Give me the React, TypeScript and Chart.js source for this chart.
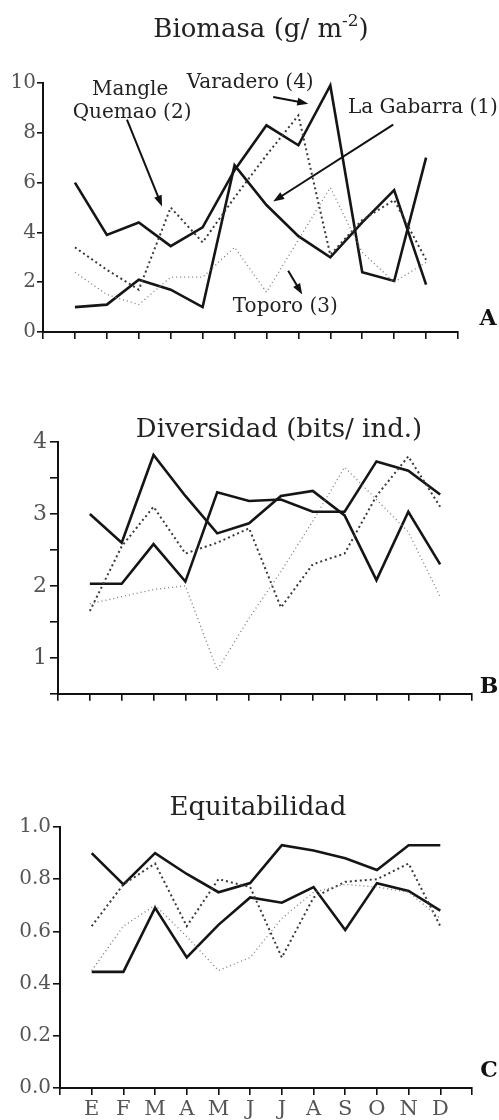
import React, { useEffect, useRef } from 'react';
import { Chart, registerables } from 'chart.js';
Chart.register(...registerables);

const FONT = '"DejaVu Serif", "Liberation Serif", serif';

// ---------- DATA ----------
const months = ['E', 'F', 'M', 'A', 'M', 'J', 'J', 'A', 'S', 'O', 'N', 'D'];

// Panel A: Biomasa (g/m-2)
const bioGabarra = [1.0, 1.1, 2.1, 1.7, 1.0, 6.7, 5.1, 3.85, 3.0, 4.4, 5.7, 1.9];
const bioMangle = [3.4, 2.5, 1.7, 5.0, 3.6, 5.4, 7.1, 8.7, 3.1, 4.5, 5.3, 2.9];
const bioToporo = [2.4, 1.5, 1.1, 2.2, 2.2, 3.4, 1.6, 3.7, 5.8, 3.2, 2.0, 2.8];
const bioVaradero = [6.0, 3.9, 4.4, 3.45, 4.2, 6.5, 8.3, 7.5, 9.9, 2.4, 2.05, 7.0];
const bioTicks = [0, 2, 4, 6, 8, 10];

// Panel B: Diversidad (bits/ind.)
const divVaradero = [3.0, 2.6, 3.82, 3.25, 2.73, 2.87, 3.25, 3.32, 2.98, 2.08, 3.03, 2.3];
const divGabarra = [2.03, 2.03, 2.58, 2.06, 3.3, 3.18, 3.2, 3.03, 3.03, 3.73, 3.6, 3.27];
const divMangle = [1.65, 2.55, 3.1, 2.45, 2.6, 2.8, 1.7, 2.3, 2.45, 3.25, 3.8, 3.1];
const divToporo = [1.75, 1.85, 1.95, 2.0, 0.83, 1.55, 2.2, 2.9, 3.65, 3.2, 2.75, 1.85];
const divTicks = [0.5, 1, 1.5, 2, 2.5, 3, 3.5, 4];
const divTickLabels = [1, 2, 3, 4];

// Panel C: Equitabilidad
const eqVaradero = [0.9, 0.78, 0.9, 0.82, 0.75, 0.785, 0.93, 0.91, 0.88, 0.835, 0.93, 0.93];
const eqGabarra = [0.445, 0.445, 0.69, 0.5, 0.625, 0.73, 0.71, 0.77, 0.605, 0.785, 0.755, 0.68];
const eqMangle = [0.62, 0.78, 0.86, 0.62, 0.8, 0.77, 0.5, 0.73, 0.79, 0.8, 0.86, 0.62];
const eqToporo = [0.45, 0.62, 0.7, 0.58, 0.45, 0.5, 0.65, 0.75, 0.78, 0.77, 0.75, 0.65];
const eqTicks = [0, 0.2, 0.4, 0.6, 0.8, 1.0];

// Annotation labels for panel A (data coordinates: month index, value)
const annotTexts = ['Mangle', 'Quemao (2)', 'Varadero (4)', 'La Gabarra (1)', 'Toporo (3)'];
const annotTextPos = [[2.73, 9.72], [2.79, 8.81], [6.49, 10.0], [11.9, 9.0], [7.59, 1.0]];
const annotArrows = [
  [2.63, 8.53, 3.73, 5.04],
  [7.21, 9.44, 8.31, 9.17],
  [10.97, 8.33, 7.21, 5.24],
  [7.68, 2.46, 8.12, 1.51],
];

// ---------- STYLES ----------
const solid = { borderColor: '#151515', borderWidth: 2.6, borderDash: [] as number[] };
const marked = { borderColor: '#3a3a3a', borderWidth: 2, borderDash: [2, 3] };
const fine = { borderColor: '#7a7a7a', borderWidth: 1.3, borderDash: [1, 3] };

function series(values: number[], style: any, label: string) {
  return {
    label,
    data: values.map((v, i) => ({ x: i + 1, y: v })),
    ...style,
    pointRadius: 0,
    tension: 0,
    fill: false,
    clip: false,
  };
}

function arrow(ctx: CanvasRenderingContext2D, x0: number, y0: number, x1: number, y1: number) {
  const ang = Math.atan2(y1 - y0, x1 - x0);
  const L = 11, W = 4;
  ctx.save();
  ctx.strokeStyle = '#111';
  ctx.fillStyle = '#111';
  ctx.lineWidth = 2;
  ctx.beginPath();
  ctx.moveTo(x0, y0);
  ctx.lineTo(x1 - Math.cos(ang) * L * 0.8, y1 - Math.sin(ang) * L * 0.8);
  ctx.stroke();
  ctx.beginPath();
  ctx.moveTo(x1, y1);
  ctx.lineTo(x1 - Math.cos(ang) * L - Math.sin(ang) * W, y1 - Math.sin(ang) * L + Math.cos(ang) * W);
  ctx.lineTo(x1 - Math.cos(ang) * L + Math.sin(ang) * W, y1 - Math.sin(ang) * L - Math.cos(ang) * W);
  ctx.closePath();
  ctx.fill();
  ctx.restore();
}

type PanelProps = {
  top: number;
  height: number;
  area: { left: number; right: number; top: number; bottom: number };
  datasets: any[];
  yMin: number;
  yMax: number;
  yTicks: number[];
  yLabel: (v: number) => string;
  yFont: number;
  yTickLen: number;
  yPad: number;
  showMonths: boolean;
  draw: (chart: any, ctx: CanvasRenderingContext2D) => void;
};

function Panel(p: PanelProps) {
  const ref = useRef<HTMLCanvasElement | null>(null);
  useEffect(() => {
    if (!ref.current) return;
    const W = 499;
    const chart = new Chart(ref.current, {
      type: 'line',
      data: { datasets: p.datasets },
      options: {
        animation: false,
        responsive: false,
        maintainAspectRatio: false,
        devicePixelRatio: 1,
        layout: { padding: { top: p.area.top - p.top, right: W - p.area.right, left: 0, bottom: 0 } },
        plugins: { legend: { display: false }, tooltip: { enabled: false }, title: { display: false } },
        scales: {
          x: {
            type: 'linear',
            min: 0,
            max: 13,
            afterBuildTicks: (s: any) => {
              s.ticks = Array.from({ length: 14 }, (_, i) => ({ value: i }));
            },
            afterFit: (s: any) => {
              s.height = p.height - (p.area.bottom - p.top);
            },
            ticks: {
              autoSkip: false,
              maxRotation: 0,
              padding: 2,
              color: '#555',
              font: { family: FONT, size: 21 },
              callback: (v: any) => (p.showMonths && v >= 1 && v <= 12 ? months[v - 1] : ''),
            },
            grid: { drawOnChartArea: false, drawTicks: true, tickLength: 7, color: '#111', lineWidth: 1.6 },
            border: { display: true, color: '#111', width: 2 },
          },
          y: {
            type: 'linear',
            min: p.yMin,
            max: p.yMax,
            afterBuildTicks: (s: any) => {
              s.ticks = p.yTicks.map((v) => ({ value: v }));
            },
            afterFit: (s: any) => {
              s.width = p.area.left;
            },
            ticks: {
              autoSkip: false,
              padding: p.yPad,
              color: '#555',
              font: { family: FONT, size: p.yFont },
              callback: (v: any) => p.yLabel(Number(v)),
            },
            grid: { drawOnChartArea: false, drawTicks: true, tickLength: p.yTickLen, color: '#111', lineWidth: 1.6 },
            border: { display: true, color: '#111', width: 2 },
          },
        },
      },
      plugins: [
        {
          id: 'decor',
          afterDraw: (chart: any) => p.draw(chart, chart.ctx),
        },
      ],
    } as any);
    return () => chart.destroy();
  }, []);
  return (
    <canvas
      ref={ref}
      width={499}
      height={p.height}
      style={{ position: 'absolute', left: 0, top: p.top, width: 499, height: p.height, display: 'block' }}
    />
  );
}

// Title drawn centred, sized so that its width matches the reference width
function drawTitle(
  ctx: CanvasRenderingContext2D,
  parts: { t: string; sup?: boolean }[],
  cx: number,
  base: number,
  targetW: number
) {
  ctx.save();
  ctx.fillStyle = '#222';
  ctx.textBaseline = 'alphabetic';
  ctx.textAlign = 'left';
  const measure = (size: number) => {
    let total = 0;
    for (const pt of parts) {
      ctx.font = `${pt.sup ? size * 0.65 : size}px ${FONT}`;
      total += ctx.measureText(pt.t).width;
    }
    return total;
  };
  const size = Math.min(26, (100 * targetW) / measure(100));
  const total = measure(size);
  let x = cx - total / 2;
  for (const pt of parts) {
    ctx.font = `${pt.sup ? size * 0.65 : size}px ${FONT}`;
    ctx.fillText(pt.t, x, pt.sup ? base - size * 0.42 : base);
    x += ctx.measureText(pt.t).width;
  }
  ctx.restore();
}

function drawLetter(ctx: CanvasRenderingContext2D, t: string, cx: number, base: number) {
  ctx.save();
  ctx.fillStyle = '#111';
  ctx.font = `bold 22px ${FONT}`;
  ctx.textAlign = 'center';
  ctx.textBaseline = 'alphabetic';
  ctx.fillText(t, cx, base);
  ctx.restore();
}

export default function App() {
  const topA = 0, topB = 360, topC = 720;
  return (
    <div style={{ position: 'absolute', left: 0, top: 0, width: 499, height: 1120, background: '#fff', overflow: 'hidden' }}>
      <Panel
        top={topA}
        height={345}
        area={{ left: 43, right: 458, top: 83, bottom: 335 }}
        datasets={[
          series(bioToporo, fine, 'Toporo (3)'),
          series(bioMangle, marked, 'Mangle Quemao (2)'),
          series(bioGabarra, solid, 'La Gabarra (1)'),
          series(bioVaradero, solid, 'Varadero (4)'),
        ]}
        yMin={0}
        yMax={10}
        yTicks={bioTicks}
        yLabel={(v) => String(v)}
        yFont={20}
        yTickLen={6}
        yPad={1}
        showMonths={false}
        draw={(chart, ctx) => {
          const xs = chart.scales.x, ys = chart.scales.y;
          drawTitle(ctx, [{ t: 'Biomasa (g/ m' }, { t: '-2', sup: true }, { t: ')' }], 261, 37 - topA, 237);
          ctx.save();
          ctx.fillStyle = '#222';
          ctx.textBaseline = 'middle';
          ctx.textAlign = 'center';
          ctx.font = `100px ${FONT}`;
          const aSize = Math.min(20, (100 * 130) / ctx.measureText('Varadero (4)').width);
          ctx.font = `${aSize}px ${FONT}`;
          annotTexts.forEach((t, i) => {
            ctx.fillText(t, xs.getPixelForValue(annotTextPos[i][0]), ys.getPixelForValue(annotTextPos[i][1]));
          });
          ctx.restore();
          annotArrows.forEach((a) => {
            arrow(ctx, xs.getPixelForValue(a[0]), ys.getPixelForValue(a[1]), xs.getPixelForValue(a[2]), ys.getPixelForValue(a[3]));
          });
          drawLetter(ctx, 'A', 488, 325 - topA);
        }}
      />
      <Panel
        top={topB}
        height={350}
        area={{ left: 58, right: 472, top: 442, bottom: 702 }}
        datasets={[
          series(divToporo, fine, 'Toporo (3)'),
          series(divMangle, marked, 'Mangle Quemao (2)'),
          series(divGabarra, solid, 'La Gabarra (1)'),
          series(divVaradero, solid, 'Varadero (4)'),
        ]}
        yMin={0.5}
        yMax={4}
        yTicks={divTicks}
        yLabel={(v) => (divTickLabels.includes(v) ? String(v) : '')}
        yFont={22}
        yTickLen={8}
        yPad={3}
        showMonths={false}
        draw={(chart, ctx) => {
          drawTitle(ctx, [{ t: 'Diversidad (bits/ ind.)' }], 279, 437 - topB, 312);
          drawLetter(ctx, 'B', 489, 693 - topB);
        }}
      />
      <Panel
        top={topC}
        height={400}
        area={{ left: 60, right: 472, top: 827, bottom: 1088 }}
        datasets={[
          series(eqToporo, fine, 'Toporo (3)'),
          series(eqMangle, marked, 'Mangle Quemao (2)'),
          series(eqGabarra, solid, 'La Gabarra (1)'),
          series(eqVaradero, solid, 'Varadero (4)'),
        ]}
        yMin={0}
        yMax={1}
        yTicks={eqTicks}
        yLabel={(v) => v.toFixed(1)}
        yFont={20}
        yTickLen={7}
        yPad={2}
        showMonths={true}
        draw={(chart, ctx) => {
          drawTitle(ctx, [{ t: 'Equitabilidad' }], 258, 815 - topC, 190);
          drawLetter(ctx, 'C', 489, 1077 - topC);
        }}
      />
    </div>
  );
}
